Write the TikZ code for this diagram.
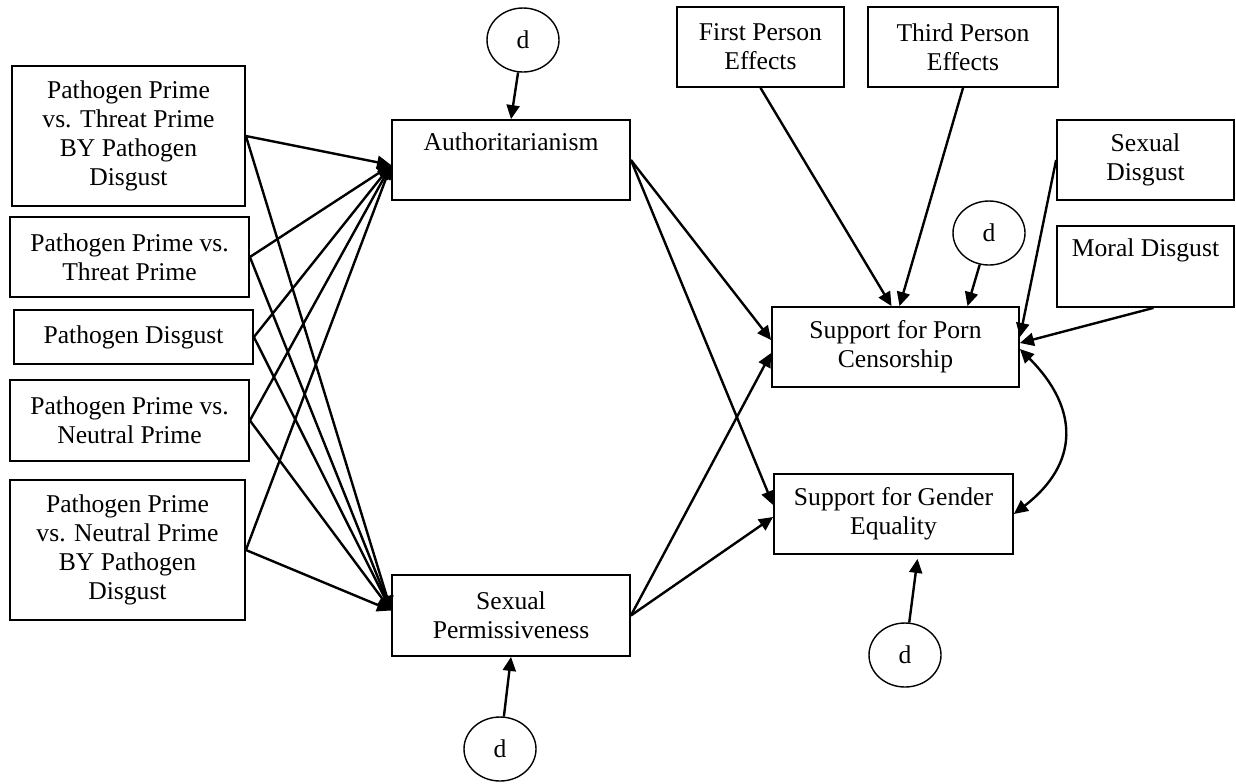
\documentclass[tikz,border=0pt]{standalone}
\usepackage{fontspec}
\setmainfont{Liberation Serif}
\usetikzlibrary{positioning}
\usetikzlibrary{arrows.meta}
\usetikzlibrary{shapes.geometric}

\begin{document}
\begin{tikzpicture}[x=0.5pt, y=-0.5pt,
			box/.style={rectangle, draw, line width=0.9pt, align=center, inner sep=2pt, font=\fontsize{12.8}{14.4}\selectfont},
			dist/.style={ellipse, draw, line width=0.7pt, minimum width=36pt, minimum height=32pt, inner sep=0pt, font=\fontsize{12.8}{14.4}\selectfont},
			arrow/.style={-{Triangle[length=7pt,width=6.5pt]}, line width=1.2pt},
			biarrow/.style={{Triangle[length=7pt,width=6.5pt]}-{Triangle[length=7pt,width=6.5pt]}, line width=1.2pt}
		]
			\useasboundingbox (0,0) rectangle (1236,783);

			% Predictors
			\node[box, minimum width=116.5pt, minimum height=70pt] (ptd) at (128.5,136) {Pathogen Prime\\vs. Threat Prime\\BY Pathogen\\Disgust};
			\node[box, minimum width=119.5pt, minimum height=40pt] (pt) at (129.5,257) {Pathogen Prime vs.\\Threat Prime};
			\node[box, minimum width=119.5pt, minimum height=27pt] (pd) at (133.5,337) {Pathogen Disgust};
			\node[box, minimum width=119.5pt, minimum height=40.5pt] (pn) at (129.5,420.5) {Pathogen Prime vs.\\Neutral Prime};
			\node[box, minimum width=117.5pt, minimum height=70pt] (pnd) at (127.5,550) {Pathogen Prime\\vs. Neutral Prime\\BY Pathogen\\Disgust};

			% Mediators
			\node[box, minimum width=119pt, minimum height=40pt] (auth) at (511,160) {Authoritarianism\\\strut};
			\node[box, minimum width=119pt, minimum height=40.5pt] (perm) at (511,615.5) {Sexual\\Permissiveness};

			% Outcomes and controls
			\node[box, minimum width=83.5pt, minimum height=40pt] (first) at (760.5,47) {First Person\\Effects};
			\node[box, minimum width=95pt, minimum height=40pt] (third) at (963,47) {Third Person\\Effects};
			\node[box, minimum width=88.5pt, minimum height=40pt] (sexdis) at (1145.5,160) {Sexual\\Disgust};
			\node[box, minimum width=88.5pt, minimum height=40.5pt] (moraldis) at (1145.5,266.5) {Moral Disgust\\\strut};
			\node[box, minimum width=123.5pt, minimum height=40pt] (porn) at (895.5,347) {Support for Porn\\Censorship};
			\node[box, minimum width=119.5pt, minimum height=40pt] (gender) at (893.5,514) {Support for Gender\\Equality};

			% Disturbances
			\node[dist] (d1) at (523,40) {d};
			\node[dist] (d2) at (989,233) {d};
			\node[dist] (d3) at (905,655) {d};
			\node[dist] (d4) at (500,749) {d};

			% Arrows
			\foreach \src in {ptd,pt,pd,pn,pnd}{
				\draw[arrow] (\src.east) -- ([yshift=-2.5pt]auth.west);
				\draw[arrow] (\src.east) -- ([yshift=2.5pt]perm.west);
			}
			\draw[arrow] (auth.east) -- ([yshift=3.5pt]porn.west);
			\draw[arrow] (auth.east) -- ([yshift=4.5pt]gender.west);
			\draw[arrow] (perm.east) -- ([yshift=-3pt]porn.west);
			\draw[arrow] (perm.east) -- ([yshift=-1.5pt]gender.west);
			\draw[arrow] (first.south) -- ([xshift=-2pt]porn.north);
			\draw[arrow] (third.south) -- ([xshift=2pt]porn.north);
			\draw[arrow] (sexdis.west) -- ([yshift=5pt]porn.east);
			\draw[arrow] ([xshift=4pt]moraldis.south) -- ([yshift=2pt]porn.east);
			\draw[biarrow] ([yshift=-1pt]porn.east) .. controls +(60,60) and +(65,-50) .. (gender.east);
			\draw[arrow] (d1) -- (auth.north);
			\draw[arrow] (d2) -- ([xshift=36pt]porn.north);
			\draw[arrow] (d3) -- ([xshift=12pt,yshift=-2pt]gender.south);
			\draw[arrow] (d4) -- (perm.south);
		\end{tikzpicture}
\end{document}
